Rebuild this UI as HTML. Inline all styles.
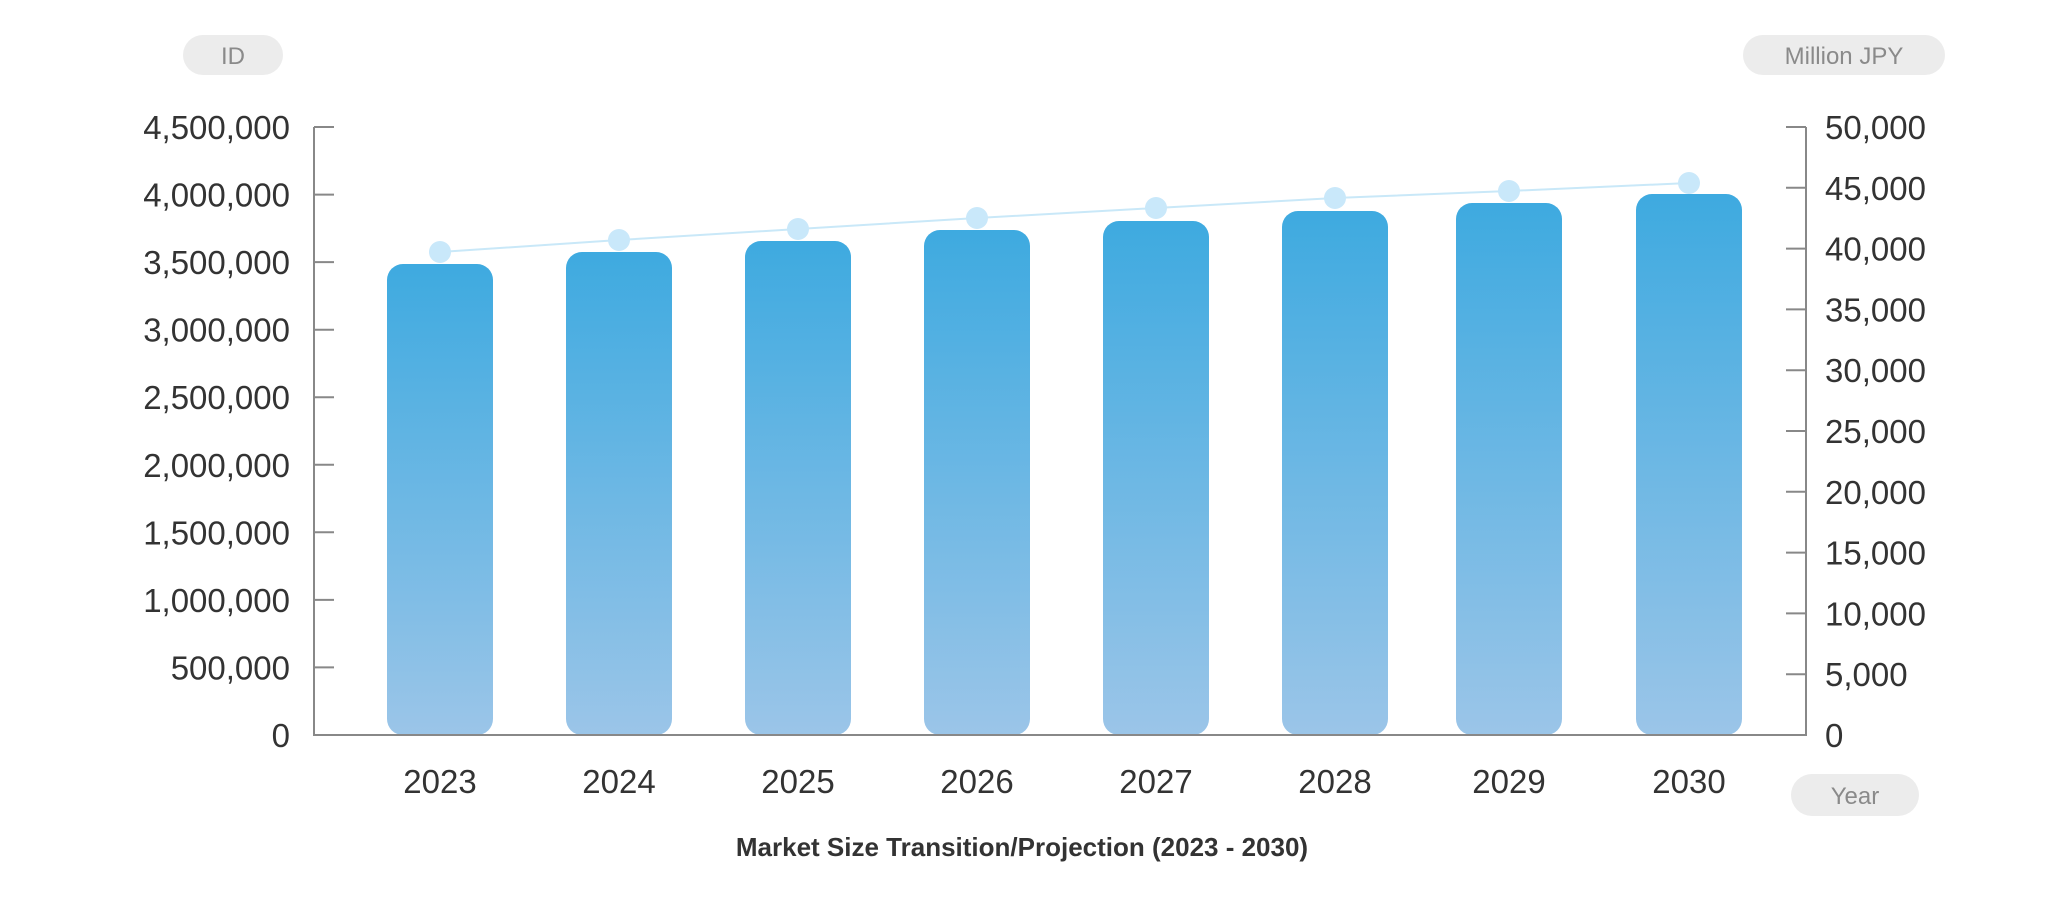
<!DOCTYPE html>
<html><head><meta charset="utf-8"><style>
html,body{margin:0;padding:0;background:#fff;}
svg{display:block;}
text{font-family:"Liberation Sans",sans-serif;}
</style></head><body>
<svg width="2047" height="899" viewBox="0 0 2047 899" xmlns="http://www.w3.org/2000/svg">
<defs>
<linearGradient id="g" x1="0" y1="0" x2="0" y2="1">
<stop offset="0" stop-color="#3eaae0"/>
<stop offset="1" stop-color="#9bc5e8"/>
</linearGradient>
</defs>
<rect width="2047" height="899" fill="#fff"/>
<rect x="183" y="35" width="100" height="40" rx="20" fill="#ececec"/>
<text x="233" y="64" font-size="24" fill="#8a8a8a" text-anchor="middle">ID</text>
<rect x="1743" y="35" width="202" height="40" rx="20" fill="#ececec"/>
<text x="1844" y="64" font-size="24" fill="#8a8a8a" text-anchor="middle">Million JPY</text>
<rect x="1791" y="774" width="128" height="42" rx="21" fill="#ececec"/>
<text x="1855" y="804" font-size="24" fill="#8a8a8a" text-anchor="middle">Year</text>
<g fill="url(#g)">
<rect x="387" y="264" width="106" height="471" rx="16"/>
<rect x="566" y="252" width="106" height="483" rx="16"/>
<rect x="745" y="241" width="106" height="494" rx="16"/>
<rect x="924" y="230" width="106" height="505" rx="16"/>
<rect x="1103" y="221" width="106" height="514" rx="16"/>
<rect x="1282" y="211" width="106" height="524" rx="16"/>
<rect x="1456" y="203" width="106" height="532" rx="16"/>
<rect x="1636" y="194" width="106" height="541" rx="16"/>
</g>
<g stroke="#888" stroke-width="2" fill="none">
<path d="M314 127 V735 H1806 V127"/>
<path d="M314 127h20 M314 194.6h20 M314 262.1h20 M314 329.7h20 M314 397.2h20 M314 464.8h20 M314 532.3h20 M314 599.9h20 M314 667.4h20"/>
<path d="M1806 127h-20 M1806 187.8h-20 M1806 248.6h-20 M1806 309.4h-20 M1806 370.2h-20 M1806 431h-20 M1806 491.8h-20 M1806 552.6h-20 M1806 613.4h-20 M1806 674.2h-20"/>
</g>
<polyline points="440,252 619,240 798,229 977,218 1156,208 1335,198 1509,191 1689,183" fill="none" stroke="#c9e8f8" stroke-width="2"/>
<g fill="#c9e8fa">
<circle cx="440" cy="252" r="11"/><circle cx="619" cy="240" r="11"/><circle cx="798" cy="229" r="11"/><circle cx="977" cy="218" r="11"/><circle cx="1156" cy="208" r="11"/><circle cx="1335" cy="198" r="11"/><circle cx="1509" cy="191" r="11"/><circle cx="1689" cy="183" r="11"/>
</g>
<g font-size="33" fill="#333" text-anchor="end">
<text x="290" y="139">4,500,000</text>
<text x="290" y="206.6">4,000,000</text>
<text x="290" y="274.1">3,500,000</text>
<text x="290" y="341.7">3,000,000</text>
<text x="290" y="409.2">2,500,000</text>
<text x="290" y="476.8">2,000,000</text>
<text x="290" y="544.3">1,500,000</text>
<text x="290" y="611.9">1,000,000</text>
<text x="290" y="679.4">500,000</text>
<text x="290" y="747">0</text>
</g>
<g font-size="33" fill="#333">
<text x="1825" y="139">50,000</text>
<text x="1825" y="199.8">45,000</text>
<text x="1825" y="260.6">40,000</text>
<text x="1825" y="321.4">35,000</text>
<text x="1825" y="382.2">30,000</text>
<text x="1825" y="443">25,000</text>
<text x="1825" y="503.8">20,000</text>
<text x="1825" y="564.6">15,000</text>
<text x="1825" y="625.4">10,000</text>
<text x="1825" y="686.2">5,000</text>
<text x="1825" y="747">0</text>
</g>
<g font-size="33" fill="#333" text-anchor="middle">
<text x="440" y="793">2023</text>
<text x="619" y="793">2024</text>
<text x="798" y="793">2025</text>
<text x="977" y="793">2026</text>
<text x="1156" y="793">2027</text>
<text x="1335" y="793">2028</text>
<text x="1509" y="793">2029</text>
<text x="1689" y="793">2030</text>
</g>
<text x="1022" y="856" font-size="26" font-weight="bold" fill="#333" text-anchor="middle">Market Size Transition/Projection (2023 - 2030)</text>
</svg>
</body></html>
